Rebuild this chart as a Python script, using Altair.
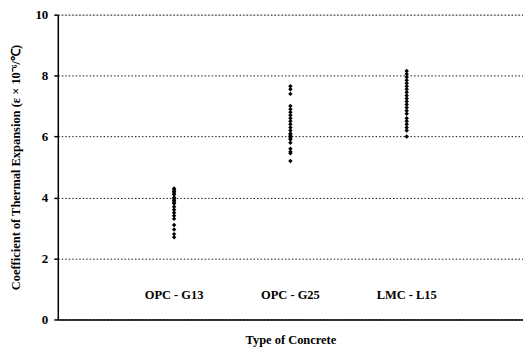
import altair as alt
import pandas as pd

categories = ["OPC - G13", "OPC - G25", "LMC - L15"]
cat_pos = [1, 2, 3]
g13 = [4.3, 4.25, 4.2, 4.15, 4.1, 4.0, 3.95, 3.9, 3.85, 3.8, 3.7, 3.6, 3.5, 3.4, 3.3, 3.1, 2.95, 2.8, 2.7]
g25 = [7.65, 7.55, 7.4, 7.0, 6.9, 6.8, 6.7, 6.6, 6.5, 6.4, 6.3, 6.2, 6.1, 6.05, 6.0, 5.95, 5.9, 5.8, 5.6, 5.5, 5.45, 5.2]
l15 = [8.15, 8.05, 7.95, 7.85, 7.75, 7.65, 7.55, 7.45, 7.35, 7.25, 7.15, 7.05, 6.95, 6.85, 6.75, 6.6, 6.5, 6.4, 6.3, 6.2, 6.0]
label_y = 0.8

rows = []
for pos, vals in zip(cat_pos, [g13, g25, l15]):
    for v in vals:
        rows.append({"x": pos, "y": v})
pts = pd.DataFrame(rows)
labels = pd.DataFrame({"x": cat_pos, "y": [label_y] * 3, "t": categories})

FONT = "Liberation Serif"

xscale = alt.Scale(domain=[0, 4], nice=False)
yscale = alt.Scale(domain=[0, 10], nice=False)

points = alt.Chart(pts).mark_point(filled=True, shape="diamond", size=20, color="black", opacity=1).encode(
    x=alt.X("x:Q", scale=xscale,
            axis=alt.Axis(title="Type of Concrete", labels=False, ticks=False, grid=False,
                          domainColor="black", domainWidth=1.5,
                          titleFont=FONT, titleFontSize=12.5, titleFontWeight="bold",
                          titleColor="black", titlePadding=14)),
    y=alt.Y("y:Q", scale=yscale,
            axis=alt.Axis(title="Coefficient of Thermal Expansion (ε × 10⁻⁶/℃)",
                          values=[0, 2, 4, 6, 8, 10], grid=True, gridDash=[1.5, 2],
                          gridColor="black", gridWidth=1, gridOpacity=0.9,
                          domainColor="black", domainWidth=1.5,
                          tickColor="black", tickSize=4, tickWidth=1.5,
                          labelFont=FONT, labelFontSize=13, labelFontWeight="bold",
                          labelColor="black", labelPadding=6,
                          titleFont=FONT, titleFontSize=12.5, titleFontWeight="bold",
                          titleColor="black", titlePadding=12)),
)

text = alt.Chart(labels).mark_text(font=FONT, fontSize=12.5, fontWeight="bold", color="black").encode(
    x=alt.X("x:Q", scale=xscale),
    y=alt.Y("y:Q", scale=yscale),
    text="t:N",
)

chart = alt.layer(points, text).properties(
    width=467, height=306,
    padding={"left": 50, "top": 6, "right": 0, "bottom": 30},
    autosize=alt.AutoSizeParams(type="none"),
).configure_view(stroke="black", strokeWidth=1.5).configure(background="white")

chart.save("out.html", embed_options={"renderer": "svg", "actions": False})
